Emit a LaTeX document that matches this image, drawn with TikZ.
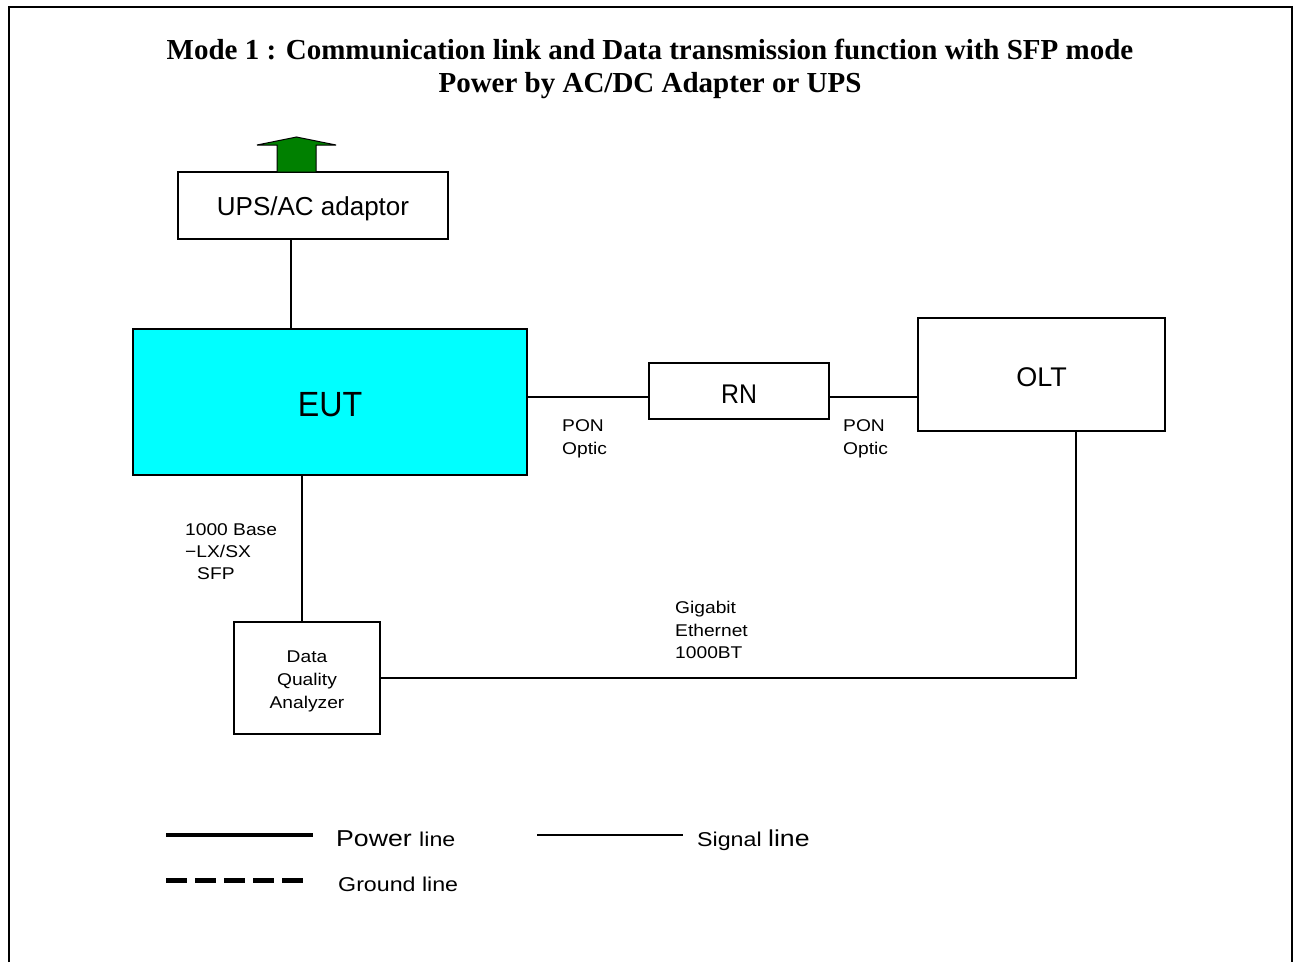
\documentclass[tikz,border=0pt]{standalone}
\usepackage{fontspec}
\setmainfont{Liberation Sans}
\newfontfamily\titlefont{Liberation Serif}
\newfontfamily\widesans[FakeStretch=1.13]{Liberation Sans}
\newfontfamily\legsans[FakeStretch=1.16]{Liberation Sans}
\newfontfamily\narsans[FakeStretch=0.92]{Liberation Sans}
\definecolor{eutcyan}{RGB}{0,255,255}
\definecolor{arrowgreen}{RGB}{0,128,0}
\begin{document}
\begin{tikzpicture}[x=1pt,y=-1pt,
  box/.style={draw,line width=1.4pt,rectangle,inner sep=0pt},
  boxtext/.style={inner sep=0pt,align=center},
  conn/.style={line width=1.4pt},
  lbl/.style={inner sep=0pt,anchor=base west,font=\widesans\fontsize{17}{20}\selectfont}]
\useasboundingbox (0,0) rectangle (1293,962);
% frame
\draw[line width=2pt] (9,962) -- (9,7) -- (1292,7) -- (1292,962);
% title
\node[inner sep=0pt,align=center,font=\titlefont\bfseries\fontsize{29}{33}\selectfont] (title) at (650,69)
  {Mode 1 : Communication link and Data transmission function with SFP mode\\Power by AC/DC Adapter or UPS};
% boxes
\node[box,minimum width=270pt,minimum height=67pt] (ups) at (313,205.5) {};
\node[boxtext,font=\fontsize{26}{30}\selectfont] (upstext) at ([yshift=-3pt]ups.center) {UPS/AC adaptor};
\node[box,fill=eutcyan,minimum width=394pt,minimum height=146pt] (eut) at (330,402) {};
\node[boxtext,font=\narsans\fontsize{35}{40}\selectfont] (euttext) at ([yshift=-3pt]eut.center) {EUT};
\node[box,minimum width=180pt,minimum height=56pt] (rn) at (739,391) {};
\node[boxtext,font=\narsans\fontsize{27}{30}\selectfont] (rntext) at ([yshift=-3pt]rn.center) {RN};
\node[box,minimum width=247pt,minimum height=113pt] (olt) at (1041.5,374.5) {};
\node[boxtext,font=\fontsize{27}{30}\selectfont] (olttext) at ([yshift=-3pt]olt.center) {OLT};
\node[box,minimum width=146pt,minimum height=112pt] (dqa) at (307,678) {};
\node[boxtext,font=\widesans\fontsize{17}{23}\selectfont] (dqatext) at ([yshift=-3pt]dqa.center) {Data\\Quality\\Analyzer};
% green arrow
\draw[line width=1pt,fill=arrowgreen]
  (277,172) -- (277,145) -- (257,145) -- (296.5,137) -- (336,145) -- (316,145) -- (316,172) -- cycle;
% connectors
\draw[conn] ([xshift=-22pt]ups.south) -- ([xshift=-22pt]ups.south |- eut.north);
\draw[conn] (eut.east |- 0,397) -- (rn.west |- 0,397);
\draw[conn] (rn.east |- 0,397) -- (olt.west |- 0,397);
\draw[conn] (302,0 |- eut.south) -- (302,0 |- dqa.north);
\draw[conn] (dqa.east) -- (1076,0 |- dqa.east) -- (1076,0 |- olt.south);
% labels
\node[lbl] (pon1a) at (562,431) {PON};
\node[lbl] (pon1b) at (562,454) {Optic};
\node[lbl] (pon2a) at (843,431) {PON};
\node[lbl] (pon2b) at (843,454) {Optic};
\node[lbl] (base1) at (185,535) {1000 Base};
\node[lbl] (base2) at (185,557) {−LX/SX};
\node[lbl] (base3) at (197,579) {SFP};
\node[lbl] (gig1) at (675,613) {Gigabit};
\node[lbl] (gig2) at (675,636) {Ethernet};
\node[lbl] (gig3) at (675,658) {1000BT};
% legend
\coordinate (pw1) at (166,835); \coordinate (pw2) at (313,835);
\draw[line width=4pt] (pw1) -- (pw2);
\node[inner sep=0pt,anchor=base west] (pwl) at (336,846) {\legsans\fontsize{23}{26}\selectfont Power \fontsize{20}{24}\selectfont line};
\coordinate (sg1) at (537,835); \coordinate (sg2) at (683,835);
\draw[line width=1.2pt] (sg1) -- (sg2);
\node[inner sep=0pt,anchor=base west] (sgl) at (697,846) {\legsans\fontsize{20}{24}\selectfont Signal \fontsize{23}{26}\selectfont line};
\coordinate (gd1) at (166,880); \coordinate (gd2) at (303,880);
\draw[line width=5pt,dash pattern=on 21pt off 8pt] (gd1) -- (gd2);
\node[inner sep=0pt,anchor=base west,font=\legsans\fontsize{20}{24}\selectfont] (gdl) at (338,891) {Ground line};
\end{tikzpicture}
\end{document}
